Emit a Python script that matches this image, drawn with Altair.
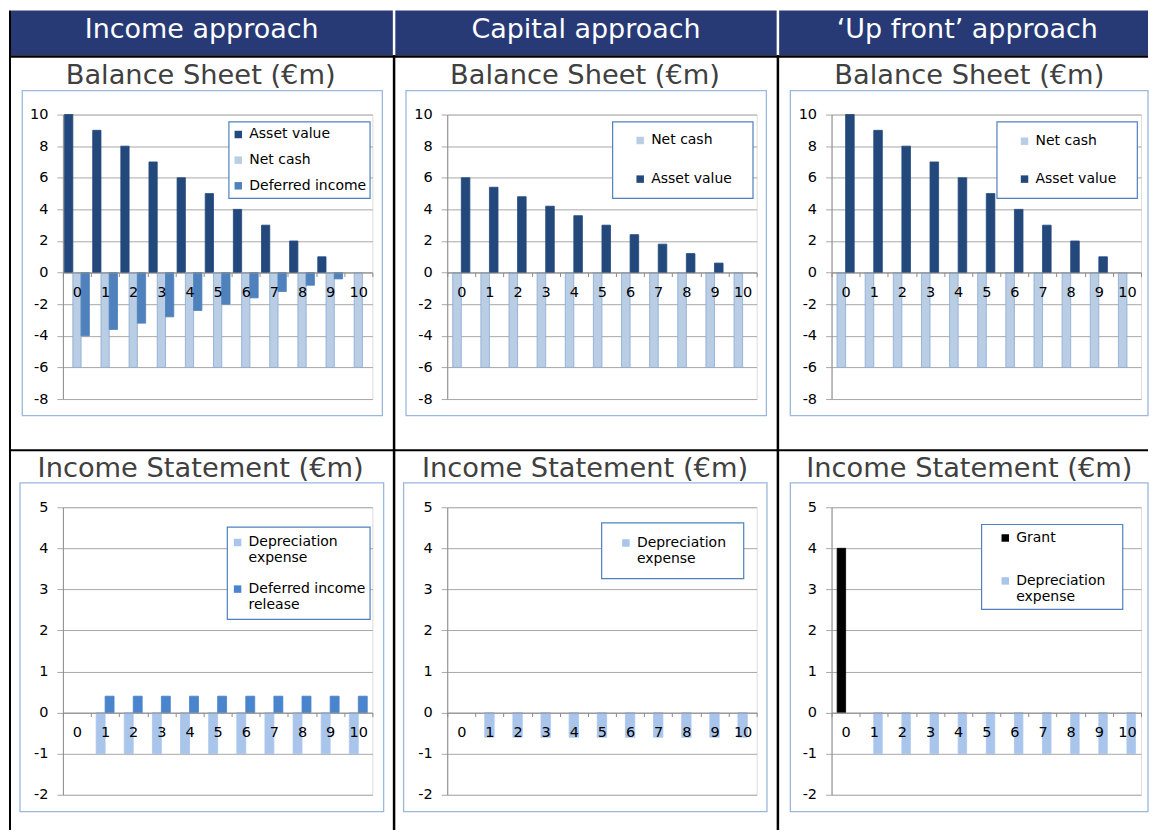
import altair as alt
import pandas as pd

# ---------------- data ----------------
YEARS = [0, 1, 2, 3, 4, 5, 6, 7, 8, 9, 10]

# Balance sheet (€m)
INC_ASSET = [10, 9, 8, 7, 6, 5, 4, 3, 2, 1, 0]
INC_CASH = [-6, -6, -6, -6, -6, -6, -6, -6, -6, -6, -6]
INC_DEFERRED = [-4, -3.6, -3.2, -2.8, -2.4, -2.0, -1.6, -1.2, -0.8, -0.4, 0]
CAP_CASH = [-6, -6, -6, -6, -6, -6, -6, -6, -6, -6, -6]
CAP_ASSET = [6, 5.4, 4.8, 4.2, 3.6, 3.0, 2.4, 1.8, 1.2, 0.6, 0]
UP_CASH = [-6, -6, -6, -6, -6, -6, -6, -6, -6, -6, -6]
UP_ASSET = [10, 9, 8, 7, 6, 5, 4, 3, 2, 1, 0]

# Income statement (€m)
INC_DEP = [0, -1, -1, -1, -1, -1, -1, -1, -1, -1, -1]
INC_RELEASE = [0, 0.4, 0.4, 0.4, 0.4, 0.4, 0.4, 0.4, 0.4, 0.4, 0.4]
CAP_DEP = [0, -0.6, -0.6, -0.6, -0.6, -0.6, -0.6, -0.6, -0.6, -0.6, -0.6]
UP_GRANT = [4, 0, 0, 0, 0, 0, 0, 0, 0, 0, 0]
UP_DEP = [0, -1, -1, -1, -1, -1, -1, -1, -1, -1, -1]

HEADERS = ["Income approach", "Capital approach", "\u2018Up front\u2019 approach"]
ROW_TITLES = ["Balance Sheet (\u20acm)", "Income Statement (\u20acm)"]
BS_TICKS = [-8, -6, -4, -2, 0, 2, 4, 6, 8, 10]
IS_TICKS = [-2, -1, 0, 1, 2, 3, 4, 5]

S_ASSET = "Asset value"
S_CASH = "Net cash"
S_DEF = "Deferred income"
S_DEP = "Depreciation\nexpense"
S_REL = "Deferred income\nrelease"
S_GRANT = "Grant"

# ---------------- styling / layout ----------------
FONT = "DejaVu Sans"
NAVY = "#283A76"
C_ASSET = "#23487C"
C_CASH = "#B9CDE5"
C_CASH_EDGE = "#8AA8D2"
C_DEF = "#4F81BD"
C_DEP = "#A9C5EB"
C_REL = "#4A84CC"
C_GRANT = "#000000"
GRID = "#A8A8A8"
AXIS = "#8C8C8C"
FRAME = "#9BB7DE"
LEGBOX = "#4F81BD"

COL_X = [62, 447, 832]
ROW_Y = [113.3, 506.7]
PLOT_W = 310
PLOT_H = [285, 288]
COL_GAP = 75
ROW_GAP = 108.4
RIGHT = 1149
BOTTOM = 830

ONE = alt.Data(values=[{"k": 0}])


def rect(ox, oy, x1, y1, x2, y2, fill=None, stroke=None, sw=1.0):
    if stroke is None:
        m = alt.Chart(ONE).mark_rect(color=fill, strokeWidth=0)
    else:
        m = alt.Chart(ONE).mark_rect(fill=fill or "white", fillOpacity=1 if fill else 0,
                                     stroke=stroke, strokeWidth=sw)
    return m.encode(x=alt.value(x1 - ox), x2=alt.value(x2 - ox),
                    y=alt.value(y1 - oy), y2=alt.value(y2 - oy))


def text(ox, oy, x, y, s, size, color):
    return alt.Chart(ONE).mark_text(text=s, font=FONT, fontSize=size, color=color,
                                    align="center", baseline="alphabetic").encode(
        x=alt.value(x - ox), y=alt.value(y - oy))


FRAMES = {
    (0, 0): (21.3, 89.3, 382, 415), (0, 1): (405.7, 89.3, 766.7, 415), (0, 2): (790.7, 89.3, RIGHT, 415),
    (1, 0): (19, 482.3, 383.3, 811.7), (1, 1): (403.3, 482.3, 767.3, 811.7), (1, 2): (790.7, 482.3, RIGHT, 811.7),
}
LEG_BOX = {
    (0, 0): (228.3, 120.7, 369.7, 197.3), (0, 1): (612.7, 120.7, 753.3, 197.3), (0, 2): (997.7, 120.7, 1138.3, 197.3),
    (1, 0): (226.7, 526.7, 369.7, 619), (1, 1): (601.7, 522.3, 744, 578.3), (1, 2): (982.3, 524, 1123.7, 609),
}
# symbol left x, first entry top y, row padding
LEG_POS = {
    (0, 0): (230.7, 126.3, 11.7), (0, 1): (633.3, 132.3, 24.7), (0, 2): (1018.3, 133, 24),
    (1, 0): (230, 535, 16.7), (1, 1): (619, 535.5, 0), (1, 2): (999, 530.5, 29),
}
SUB_X = [200, 585, 970]
SUB_Y = [82.7, 476.7]
HEAD_X = [201, 586, 968]


def panel(r, c, names, series, colors, strokes, ydom, yticks, off_pad):
    ox, oy = COL_X[c], ROW_Y[r]
    h = PLOT_H[r]
    rows = []
    for name, vals in zip(names, series):
        for yr, v in zip(YEARS, vals):
            rows.append({"year": yr, "series": name, "value": v})
    df = pd.DataFrame(rows)
    ymin, ymax = ydom
    zero_y = h * ymax / (ymax - ymin)
    lx, ly, rp = LEG_POS[(r, c)]
    bars = alt.Chart(df).transform_filter("datum.value != 0").mark_bar(strokeWidth=0.8).encode(
        x=alt.X("year:O", title=None,
                scale=alt.Scale(domain=YEARS, paddingInner=0, paddingOuter=0),
                axis=alt.Axis(offset=zero_y - h, labelAngle=0, tickBand="extent", tickSize=4,
                              tickColor=AXIS, domainColor=AXIS, labelFont=FONT, labelFontSize=14.5,
                              labelColor="black", labelPadding=9, grid=False, zindex=1)),
        xOffset=alt.XOffset("series:N", sort=names,
                            scale=alt.Scale(domain=names, paddingInner=0, paddingOuter=off_pad)),
        y=alt.Y("value:Q", title=None,
                scale=alt.Scale(domain=list(ydom), nice=False),
                axis=alt.Axis(values=yticks, tickSize=6, tickColor=GRID, domainColor=AXIS,
                              gridColor=GRID, labelFont=FONT, labelFontSize=14.5,
                              labelColor="black", labelPadding=9,
                              labelExpr="datum.value + ''")),
        color=alt.Color("series:N", sort=names,
                        scale=alt.Scale(domain=names, range=colors),
                        legend=alt.Legend(orient="none", legendX=lx - ox, legendY=ly - oy,
                                          title=None, direction="vertical",
                                          symbolType="square",
                                          symbolSize=56, symbolStrokeWidth=0,
                                          labelFont=FONT, labelFontSize=14, labelColor="black",
                                          labelExpr="split(datum.label, '\\n')",
                                          rowPadding=rp, padding=0, labelOffset=4,
                                          labelLimit=300, zindex=1)),
        stroke=alt.Stroke("series:N", scale=alt.Scale(domain=names, range=strokes), legend=None),
    )
    layers = [bars]
    fx1, fy1, fx2, fy2 = FRAMES[(r, c)]
    layers.append(rect(ox, oy, fx1, fy1, fx2, fy2, stroke=FRAME, sw=1.3))
    bx1, by1, bx2, by2 = LEG_BOX[(r, c)]
    layers.append(rect(ox, oy, bx1, by1, bx2, by2, fill="white", stroke=LEGBOX, sw=1.2))
    layers.append(text(ox, oy, SUB_X[c], SUB_Y[r], ROW_TITLES[r], 27.3, "#404040"))
    if r == 0 and c == 0:
        for (x1, x2), hx, htxt in zip([(10, 392.5), (395, 777), (779.5, RIGHT)], HEAD_X, HEADERS):
            layers.append(rect(ox, oy, x1, 9, x2, 54, fill=NAVY))
            layers.append(text(ox, oy, hx, 36.5, htxt, 27, "white"))
        for (x1, y1, x2, y2) in [(8, 54, RIGHT, 56.5), (8, 9, 10, BOTTOM), (392.5, 54, 395, BOTTOM),
                                 (777, 54, 779.5, BOTTOM), (8, 448.7, RIGHT, 450.7)]:
            layers.append(rect(ox, oy, x1, y1, x2, y2, fill="black"))
    return alt.layer(*layers).properties(width=PLOT_W, height=h)


panels = [
    panel(0, 0, [S_ASSET, S_CASH, S_DEF], [INC_ASSET, INC_CASH, INC_DEFERRED],
          [C_ASSET, C_CASH, C_DEF], [C_ASSET, C_CASH_EDGE, C_DEF], (-8, 10), BS_TICKS, 0.2),
    panel(0, 1, [S_CASH, S_ASSET], [CAP_CASH, CAP_ASSET],
          [C_CASH, C_ASSET], [C_CASH_EDGE, C_ASSET], (-8, 10), BS_TICKS, 0.64),
    panel(0, 2, [S_CASH, S_ASSET], [UP_CASH, UP_ASSET],
          [C_CASH, C_ASSET], [C_CASH_EDGE, C_ASSET], (-8, 10), BS_TICKS, 0.64),
    panel(1, 0, [S_DEP, S_REL], [INC_DEP, INC_RELEASE],
          [C_DEP, C_REL], [C_DEP, C_REL], (-2, 5), IS_TICKS, 0.57),
    panel(1, 1, [S_DEP], [CAP_DEP],
          [C_DEP], [C_DEP], (-2, 5), IS_TICKS, 1.0),
    panel(1, 2, [S_GRANT, S_DEP], [UP_GRANT, UP_DEP],
          [C_GRANT, C_DEP], [C_GRANT, C_DEP], (-2, 5), IS_TICKS, 0.66),
]

chart = alt.concat(*panels, columns=3, spacing={"row": ROW_GAP, "column": COL_GAP},
                   bounds="flush", align="each",
                   padding={"left": 0, "top": 1, "right": 0, "bottom": 0}).resolve_scale(
    x="independent", y="independent", color="independent", stroke="independent", xOffset="independent"
).configure_view(stroke=None).configure(font=FONT, background="white")

chart.save("out.html", embed_options={"renderer": "svg", "actions": False})
